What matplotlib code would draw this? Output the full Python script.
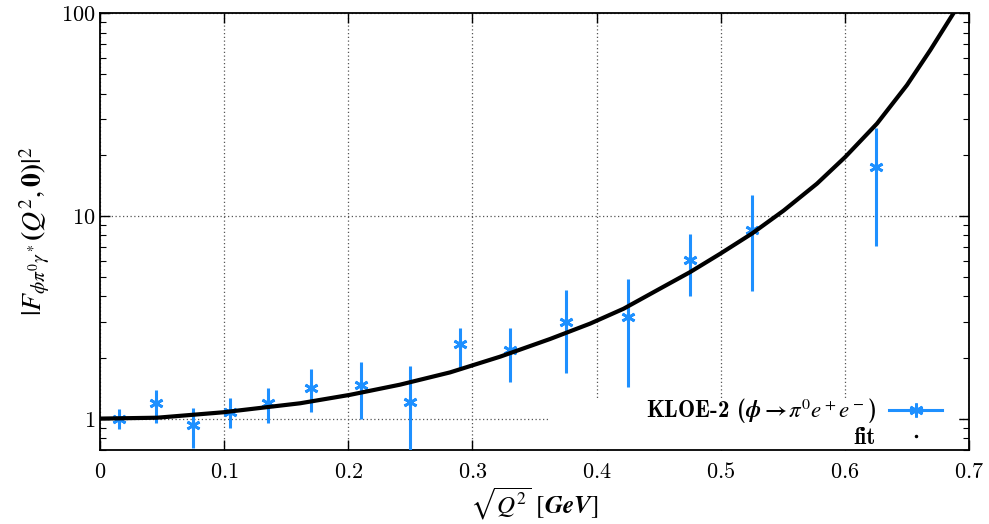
import numpy as np
import matplotlib
matplotlib.use('Agg')
import matplotlib.pyplot as plt
from matplotlib.patches import Rectangle
from matplotlib.lines import Line2D
from matplotlib.font_manager import FontProperties

plt.rcParams['mathtext.fontset'] = 'cm'
plt.rcParams['font.family'] = 'serif'

# KLOE-2 data points
q = [0.015, 0.045, 0.075, 0.105, 0.135, 0.17, 0.21, 0.25, 0.29, 0.33, 0.375, 0.425, 0.475, 0.525, 0.625]
ff = [1.0, 1.19, 0.93, 1.08, 1.2, 1.42, 1.47, 1.21, 2.32, 2.19, 3.01, 3.17, 6.08, 8.48, 17.4]
ff_lo = [0.89, 0.955, 0.72, 0.90, 0.955, 1.08, 1.0, 0.6, 1.77, 1.52, 1.67, 1.43, 4.0, 4.25, 7.08]
ff_hi = [1.11, 1.39, 1.13, 1.27, 1.41, 1.75, 1.91, 1.81, 2.81, 2.81, 4.33, 4.86, 8.1, 12.6, 27.1]

# fit curve
fit_q = [0, 0.046, 0.099, 0.1612, 0.2015, 0.2417, 0.282, 0.3223, 0.3626, 0.3948, 0.4217,
         0.4486, 0.4754, 0.4996, 0.5251, 0.5506, 0.5775, 0.6003, 0.6259, 0.650, 0.6688, 0.6876]
fit_ff = [1.0, 1.01, 1.074, 1.19, 1.31, 1.47, 1.69, 2.02, 2.47, 2.94, 3.48,
          4.29, 5.28, 6.5, 8.17, 10.6, 14.4, 19.5, 28.5, 44.1, 65.6, 100]

xticks = [0, 0.1, 0.2, 0.3, 0.4, 0.5, 0.6, 0.7]
xlabels = ['0', '0.1', '0.2', '0.3', '0.4', '0.5', '0.6', '0.7']
yticks = [1, 10, 100]
ylabels = ['1', '10', '100']

blue = '#1e90ff'

fig = plt.figure(figsize=(9.89, 5.24), dpi=100)
ax = fig.add_axes([0.1011, 0.1412, 0.8787, 0.834])
ax.set_yscale('log')
ax.set_xlim(0, 0.7)
ax.set_ylim(0.7, 100)

ax.set_axisbelow(True)
ax.grid(True, which='major', linestyle=(0, (1, 2)), color='#555555', linewidth=0.9)

# white key box covering the grid (gnuplot style)
ax.add_patch(Rectangle((0.516, 0.0), 0.47, 0.114, transform=ax.transAxes,
                       facecolor='white', edgecolor='none', zorder=1.5))

y = np.array(ff)
yerr = [y - np.array(ff_lo), np.array(ff_hi) - y]
ax.errorbar(q, ff, yerr=yerr, fmt='none', ecolor=blue, elinewidth=2.2, capsize=0, zorder=3)
ax.plot(q, ff, linestyle='none', marker=(6, 2, 0), markersize=10, markeredgewidth=2.0,
        color=blue, zorder=4)
ax.plot(fit_q, fit_ff, color='black', linewidth=3.0, zorder=5, solid_joinstyle='round')

ax.set_xticks(xticks)
ax.set_xticklabels(['$%s$' % s for s in xlabels])
ax.set_yticks(yticks)
ax.set_yticklabels(['$%s$' % s for s in ylabels])
ax.tick_params(which='both', direction='in', top=True, right=True, labelsize=16)
ax.tick_params(which='major', length=7, width=1.0)
ax.tick_params(which='minor', length=4, width=0.8)
ax.tick_params(axis='x', pad=8)
for sp in ax.spines.values():
    sp.set_linewidth(1.3)

lab_font = FontProperties(size=18, math_fontfamily='stix')
ax.set_xlabel(r'$\sqrt{Q^2}\ [\boldsymbol{GeV}]$', fontproperties=lab_font, labelpad=2)
ax.set_ylabel(r'$|\boldsymbol{F_{\phi\pi^0\gamma^*}(Q^2,0)}|^2$',
              fontproperties=FontProperties(size=20, math_fontfamily='stix'), labelpad=6)

h1 = Line2D([], [], color=blue, linewidth=2.2, marker=(6, 2, 0), markersize=10, markeredgewidth=2.0)
h2 = Line2D([], [], color='black', linestyle='none', marker='.', markersize=3)
leg_font = FontProperties(family='cmb10', size=16.5, math_fontfamily='stix')
ax.legend([h1, h2], [r'KLOE-2 ($\boldsymbol{\phi\rightarrow\pi^0e^+e^-}$)', 'fit'],
          loc='lower right', bbox_to_anchor=(0.99, -0.04), markerfirst=False, frameon=False,
          prop=leg_font, handlelength=2.3, handletextpad=0.6, labelspacing=0.05, borderpad=0.3)

fig.savefig('out.png', dpi=100)
